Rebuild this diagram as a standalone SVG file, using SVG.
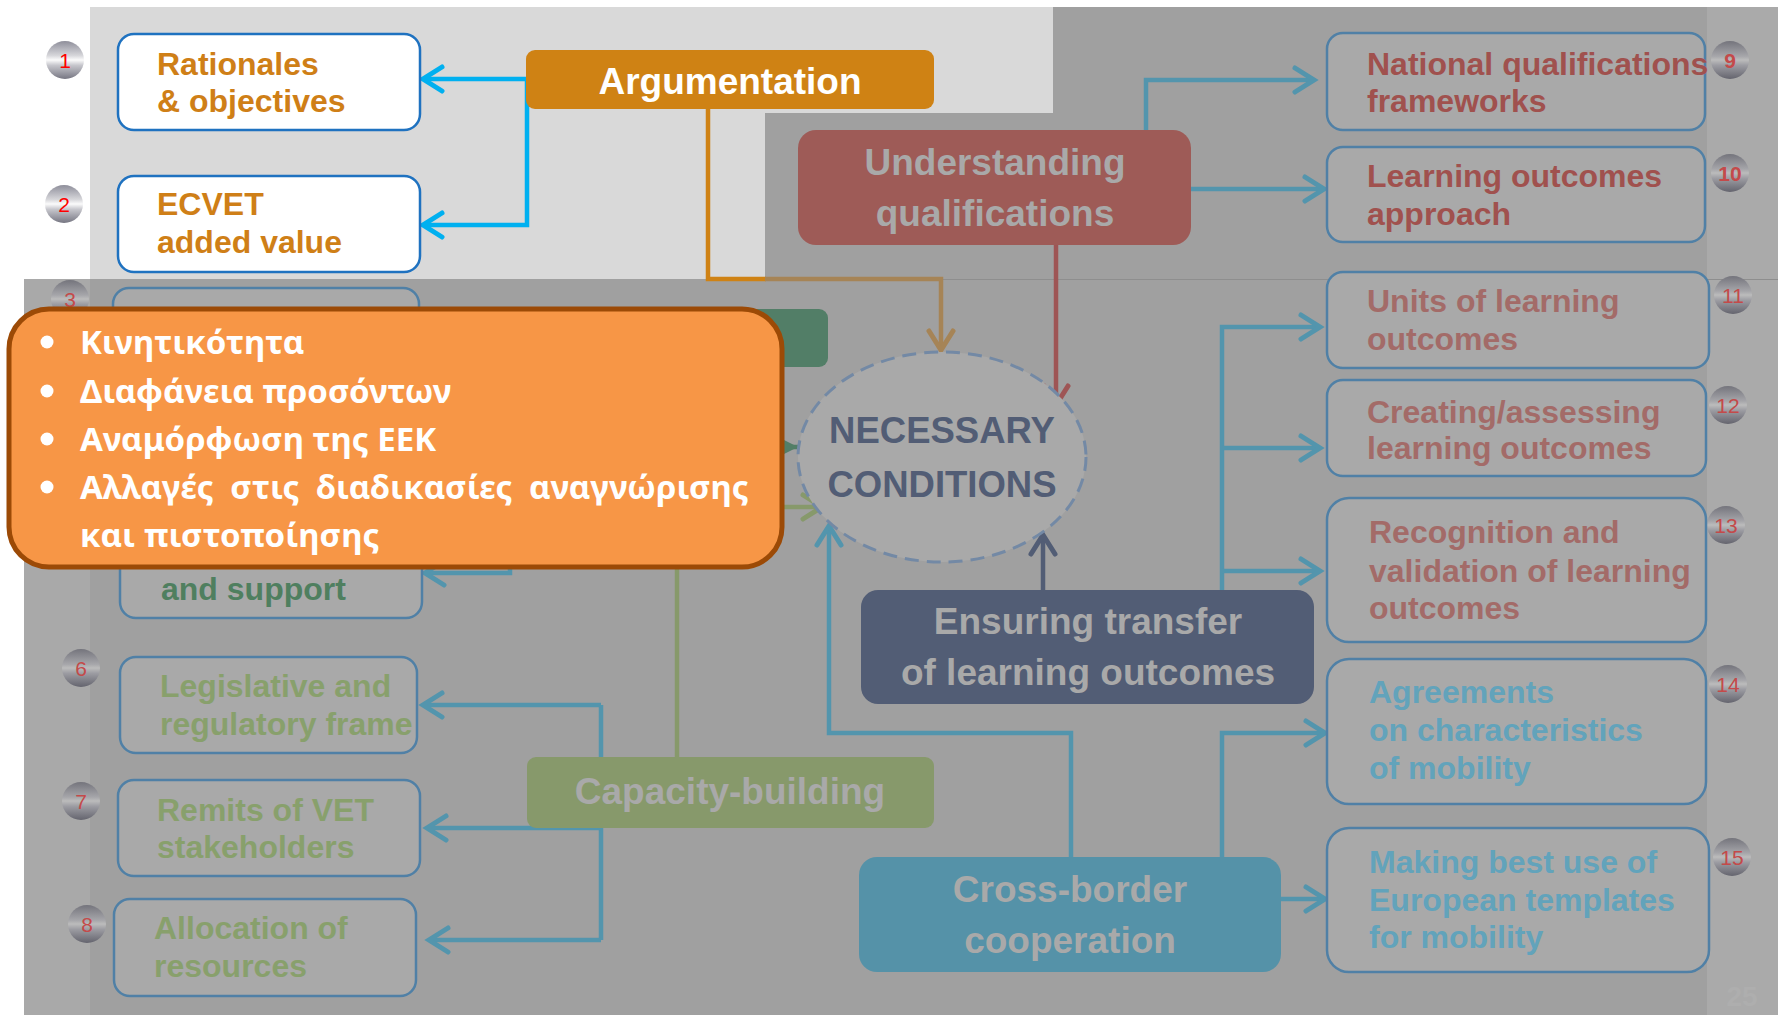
<svg xmlns="http://www.w3.org/2000/svg" width="1778" height="1015" viewBox="0 0 1778 1015">
<defs>
<style>
.t{font-family:"Liberation Sans",Arial,sans-serif;font-weight:bold}
.bx{font-size:32px}
.big{font-size:37px;text-anchor:middle}
.bb{fill:#ffffff;stroke:#1f72c0;stroke-width:2.5}
.bd{fill:#a9a9a9;stroke:#5080a6;stroke-width:2.5}
.num{font-family:"Liberation Sans",Arial,sans-serif;font-size:21px;text-anchor:middle}
.nb{fill:#ff0000}
.nd{fill:#c44a4a}
.c{fill:none;stroke-width:4.5;stroke-linejoin:miter}
.cbb{stroke:#00b0f0;marker-end:url(#ah-bb)}
.cdb{stroke:#5395ad;marker-end:url(#ah-db)}
.cdbn{stroke:#5395ad}
.gk{font-family:"Noto Sans","Open Sans",sans-serif;font-weight:bold;font-size:33px;fill:#ffffff}
</style>
<linearGradient id="gb" x1="0" y1="0" x2="0" y2="1">
<stop offset="0" stop-color="#8e8e9a"/><stop offset="0.38" stop-color="#d6d6da"/><stop offset="0.5" stop-color="#fbfbfb"/><stop offset="0.64" stop-color="#c6c6cc"/><stop offset="1" stop-color="#767682"/>
</linearGradient>
<linearGradient id="gd" x1="0" y1="0" x2="0" y2="1">
<stop offset="0" stop-color="#74747c"/><stop offset="0.4" stop-color="#a6a6aa"/><stop offset="0.5" stop-color="#bcbcbc"/><stop offset="0.64" stop-color="#9c9ca2"/><stop offset="1" stop-color="#64646e"/>
</linearGradient>
<marker id="ah-bb" markerUnits="userSpaceOnUse" markerWidth="30" markerHeight="30" refX="24" refY="15" orient="auto" overflow="visible"><path d="M5,3 L24,15 L5,27" fill="none" stroke="#00b0f0" stroke-width="5" stroke-linecap="round"/></marker>
<marker id="ah-db" markerUnits="userSpaceOnUse" markerWidth="30" markerHeight="30" refX="24" refY="15" orient="auto" overflow="visible"><path d="M5,3 L24,15 L5,27" fill="none" stroke="#5395ad" stroke-width="5" stroke-linecap="round"/></marker>
<marker id="ah-or" markerUnits="userSpaceOnUse" markerWidth="30" markerHeight="30" refX="24" refY="15" orient="auto" overflow="visible"><path d="M5,3 L24,15 L5,27" fill="none" stroke="#a68456" stroke-width="5" stroke-linecap="round"/></marker>
<marker id="ah-rd" markerUnits="userSpaceOnUse" markerWidth="30" markerHeight="30" refX="24" refY="15" orient="auto" overflow="visible"><path d="M5,3 L24,15 L5,27" fill="none" stroke="#9e5555" stroke-width="5" stroke-linecap="round"/></marker>
<marker id="ah-nv" markerUnits="userSpaceOnUse" markerWidth="30" markerHeight="30" refX="24" refY="15" orient="auto" overflow="visible"><path d="M5,3 L24,15 L5,27" fill="none" stroke="#525d75" stroke-width="5" stroke-linecap="round"/></marker>
<marker id="ah-lg" markerUnits="userSpaceOnUse" markerWidth="30" markerHeight="30" refX="24" refY="15" orient="auto" overflow="visible"><path d="M5,3 L24,15 L5,27" fill="none" stroke="#87996b" stroke-width="5" stroke-linecap="round"/></marker>
<marker id="ah-dg" markerUnits="userSpaceOnUse" markerWidth="18" markerHeight="18" refX="16" refY="8" orient="auto" overflow="visible"><path d="M0,0 L16,8 L0,16 Z" fill="#527e67"/></marker>
</defs>

<g id="background">
<rect width="1778" height="1015" fill="#ffffff"/>
<path d="M90,7 H1053 V113 H765 V279 H90 Z" fill="#d9d9d9"/>
<path d="M1053,7 H1707 V1015 H90 V279 H765 V113 H1053 Z" fill="#a0a0a0"/>
<rect x="24" y="279" width="66" height="736" fill="#a9a9a9"/>
<rect x="1707" y="7" width="71" height="1008" fill="#aaaaaa"/>
<line x1="765" y1="279.5" x2="1778" y2="279.5" stroke="#8e8e8e" stroke-width="1"/>
<text x="1742" y="1006" class="t" font-size="28" text-anchor="middle" fill="#aeaeae">25</text>
</g>

<g id="connectors">
<path class="c cbb" d="M527,152 V79 H423"/>
<path class="c cbb" d="M527,152 V225 H423"/>
<path class="c" stroke="#cf8214" d="M708,109 V279 H766"/>
<path class="c" stroke="#a68456" marker-end="url(#ah-or)" d="M765,279 H941 V350"/>
<path class="c" stroke="#9e5555" marker-end="url(#ah-rd)" d="M1056,245 V405"/>
<path class="c cdb" d="M1146,131 V80 H1314"/>
<path class="c cdb" d="M1190,189 H1324"/>
<path class="c cdb" d="M1222,591 V327 H1320"/>
<path class="c cdb" d="M1222,448 H1320"/>
<path class="c cdb" d="M1222,571 H1320"/>
<path class="c" stroke="#525d75" marker-end="url(#ah-nv)" d="M1043,591 V535"/>
<path class="c cdb" d="M1071,858 V733 H829 V526"/>
<path class="c cdb" d="M1222,858 V733 H1325"/>
<path class="c cdb" d="M1280,899 H1325"/>
<path class="c cdbn" d="M601,705 V757"/>
<path class="c cdbn" d="M601,828 V940"/>
<path class="c cdb" d="M601,705 H423"/>
<path class="c cdb" d="M601,828 H427"/>
<path class="c cdb" d="M601,940 H429"/>
<path class="c cdb" d="M510,545 V573 H425"/>
<path class="c" stroke="#87996b" stroke-width="3.5" marker-end="url(#ah-lg)" d="M677,757 V507 H822"/>
<path class="c" stroke="#527e67" stroke-width="4" marker-end="url(#ah-dg)" d="M740,447 H798"/>
</g>

<g id="badge-1"><circle cx="65" cy="60" r="19" fill="url(#gb)"/><text x="65" y="68" class="num nb">1</text></g>
<g id="badge-2"><circle cx="64" cy="204" r="19" fill="url(#gb)"/><text x="64" y="212" class="num nb">2</text></g>
<g id="badge-3"><circle cx="70" cy="299" r="19" fill="url(#gd)"/><text x="70" y="307" class="num nd">3</text></g>
<g id="badge-6"><circle cx="81" cy="668" r="19" fill="url(#gd)"/><text x="81" y="676" class="num nd">6</text></g>
<g id="badge-7"><circle cx="81" cy="801" r="19" fill="url(#gd)"/><text x="81" y="809" class="num nd">7</text></g>
<g id="badge-8"><circle cx="87" cy="924" r="19" fill="url(#gd)"/><text x="87" y="932" class="num nd">8</text></g>
<g id="badge-9"><circle cx="1730" cy="60" r="19" fill="url(#gd)"/><text x="1730" y="68" class="num nd" font-weight="bold">9</text></g>
<g id="badge-10"><circle cx="1730" cy="173" r="19" fill="url(#gd)"/><text x="1730" y="181" class="num nd" font-weight="bold">10</text></g>
<g id="badge-11"><circle cx="1733" cy="295" r="19" fill="url(#gd)"/><text x="1733" y="303" class="num nd">11</text></g>
<g id="badge-12"><circle cx="1728" cy="405" r="19" fill="url(#gd)"/><text x="1728" y="413" class="num nd">12</text></g>
<g id="badge-13"><circle cx="1726" cy="525" r="19" fill="url(#gd)"/><text x="1726" y="533" class="num nd">13</text></g>
<g id="badge-14"><circle cx="1728" cy="684" r="19" fill="url(#gd)"/><text x="1728" y="692" class="num nd">14</text></g>
<g id="badge-15"><circle cx="1732" cy="857" r="19" fill="url(#gd)"/><text x="1732" y="865" class="num nd">15</text></g>

<g id="rationales">
<rect x="118" y="34" width="302" height="96" rx="16" class="bb"/>
<text class="t bx" fill="#cf7f17"><tspan x="157" y="75">Rationales</tspan><tspan x="157" y="112">&amp; objectives</tspan></text>
</g>
<g id="ecvet">
<rect x="118" y="176" width="302" height="96" rx="16" class="bb"/>
<text class="t bx" fill="#cf7f17"><tspan x="157" y="215">ECVET</tspan><tspan x="157" y="253">added value</tspan></text>
</g>
<g id="argumentation">
<rect x="526" y="50" width="408" height="59" rx="9" fill="#cf8214"/>
<text x="730" y="94" class="t big" fill="#ffffff">Argumentation</text>
</g>
<g id="understanding">
<rect x="798" y="130" width="393" height="115" rx="18" fill="#9e5b57"/>
<text class="t big" fill="#a9a9a9"><tspan x="995" y="175">Understanding</tspan><tspan x="995" y="226">qualifications</tspan></text>
</g>
<g id="box-3"><rect x="113" y="288" width="306" height="96" rx="16" class="bd"/></g>
<g id="box-5">
<rect x="120" y="522" width="302" height="96" rx="16" class="bd"/>
<text x="161" y="600" class="t bx" fill="#4f7f5f">and support</text>
</g>
<g id="green-node"><rect x="526" y="309" width="302" height="58" rx="9" fill="#527e67"/></g>
<g id="necessary">
<ellipse cx="942" cy="457" rx="144" ry="105" fill="#a9a9a9" stroke="#7389a5" stroke-width="3" stroke-dasharray="14 8"/>
<text class="t" font-size="36.5" text-anchor="middle" fill="#525d75"><tspan x="942" y="443">NECESSARY</tspan><tspan x="942" y="497">CONDITIONS</tspan></text>
</g>
<g id="ensuring">
<rect x="861" y="590" width="453" height="114" rx="17" fill="#525d75"/>
<text class="t big" fill="#a9a9a9"><tspan x="1088" y="634">Ensuring transfer</tspan><tspan x="1088" y="685">of learning outcomes</tspan></text>
</g>
<g id="capacity">
<rect x="527" y="757" width="407" height="71" rx="9" fill="#87996b"/>
<text x="730" y="804" class="t big" fill="#a9a9a9">Capacity-building</text>
</g>
<g id="crossborder">
<rect x="859" y="857" width="422" height="115" rx="18" fill="#5592a8"/>
<text class="t big" fill="#a9a9a9"><tspan x="1070" y="902">Cross-border</tspan><tspan x="1070" y="953">cooperation</tspan></text>
</g>

<g id="legislative">
<rect x="120" y="657" width="297" height="96" rx="16" class="bd"/>
<text class="t bx" fill="#88a06c"><tspan x="160" y="697">Legislative and</tspan><tspan x="160" y="735">regulatory frame</tspan></text>
</g>
<g id="remits">
<rect x="118" y="780" width="302" height="96" rx="16" class="bd"/>
<text class="t bx" fill="#88a06c"><tspan x="157" y="821">Remits of VET</tspan><tspan x="157" y="858">stakeholders</tspan></text>
</g>
<g id="allocation">
<rect x="114" y="899" width="302" height="97" rx="16" class="bd"/>
<text class="t bx" fill="#88a06c"><tspan x="154" y="939">Allocation of</tspan><tspan x="154" y="977">resources</tspan></text>
</g>

<g id="nqf">
<rect x="1327" y="33" width="378" height="97" rx="16" class="bd"/>
<text class="t bx" fill="#a0514e"><tspan x="1367" y="75">National qualifications</tspan><tspan x="1367" y="112">frameworks</tspan></text>
</g>
<g id="lo-approach">
<rect x="1327" y="147" width="378" height="95" rx="16" class="bd"/>
<text class="t bx" fill="#a0514e"><tspan x="1367" y="187">Learning outcomes</tspan><tspan x="1367" y="225">approach</tspan></text>
</g>
<g id="units">
<rect x="1327" y="272" width="382" height="96" rx="16" class="bd"/>
<text class="t bx" fill="#a36b68"><tspan x="1367" y="312">Units of learning</tspan><tspan x="1367" y="350">outcomes</tspan></text>
</g>
<g id="creating">
<rect x="1327" y="380" width="379" height="96" rx="16" class="bd"/>
<text class="t bx" fill="#a36b68"><tspan x="1367" y="423">Creating/assessing</tspan><tspan x="1367" y="459">learning outcomes</tspan></text>
</g>
<g id="recognition">
<rect x="1327" y="498" width="379" height="144" rx="22" class="bd"/>
<text class="t bx" fill="#a36b68"><tspan x="1369" y="543">Recognition and</tspan><tspan x="1369" y="582">validation of learning</tspan><tspan x="1369" y="619">outcomes</tspan></text>
</g>
<g id="agreements">
<rect x="1327" y="659" width="379" height="145" rx="22" class="bd"/>
<text class="t bx" fill="#62a3bb"><tspan x="1369" y="703">Agreements</tspan><tspan x="1369" y="741">on characteristics</tspan><tspan x="1369" y="779">of mobility</tspan></text>
</g>
<g id="templates">
<rect x="1327" y="828" width="382" height="144" rx="22" class="bd"/>
<text class="t bx" fill="#62a3bb"><tspan x="1369" y="873">Making best use of</tspan><tspan x="1369" y="911">European templates</tspan><tspan x="1369" y="948">for mobility</tspan></text>
</g>

<g id="callout">
<rect x="9" y="309" width="773" height="258" rx="40" fill="#f79646" stroke="#9c4a06" stroke-width="5"/>
<circle cx="47" cy="342" r="6.5" fill="#ffffff"/>
<circle cx="47" cy="391" r="6.5" fill="#ffffff"/>
<circle cx="47" cy="439" r="6.5" fill="#ffffff"/>
<circle cx="47" cy="487" r="6.5" fill="#ffffff"/>
<text class="gk"><tspan x="80" y="354">Κινητικότητα</tspan><tspan x="80" y="403">Διαφάνεια προσόντων</tspan><tspan x="80" y="451">Αναμόρφωση της ΕΕΚ</tspan><tspan x="80" y="499" word-spacing="8">Αλλαγές στις διαδικασίες αναγνώρισης</tspan><tspan x="80" y="547">και πιστοποίησης</tspan></text>
</g>
</svg>
